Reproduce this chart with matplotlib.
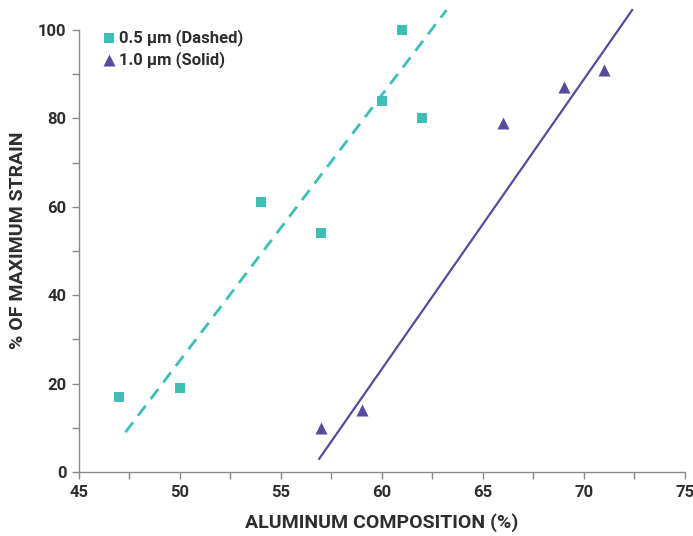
import numpy as np
import matplotlib
matplotlib.use("Agg")
from matplotlib import pyplot as plt

# Strain data, 0.5 um films (squares)
al_05 = [47, 50, 54, 57, 60, 61, 62]
strain_05 = [17, 19, 61, 54, 84, 100, 80]
# Strain data, 1.0 um films (triangles)
al_10 = [57, 59, 66, 69, 71]
strain_10 = [10, 14, 79, 87, 91]

# Trend line end points
fit_05_x = [47.3, 63.2]
fit_05_y = [9.0, 104.5]
fit_10_x = [56.9, 72.4]
fit_10_y = [3.0, 104.5]

TEAL = "#3dbfb5"
PURPLE = "#5a4a9c"
TEXT = "#2e2e2e"
AXIS = "#8a8a8a"

plt.rcParams["font.family"] = ["Roboto", "DejaVu Sans"]

fig = plt.figure(figsize=(6.93, 5.36), dpi=100)
ax = fig.add_axes([0.114, 0.1194, 0.874, 0.866])

ax.plot(fit_05_x, fit_05_y, color=TEAL, lw=2, ls=(0, (4.5, 3)))
ax.plot(fit_10_x, fit_10_y, color=PURPLE, lw=1.6)
ax.scatter(al_05, strain_05, marker="s", s=42, color=TEAL, lw=0,
           label="0.5 µm (Dashed)", zorder=3)
ax.scatter(al_10, strain_10, marker="^", s=75, color=PURPLE, lw=0,
           label="1.0 µm (Solid)", zorder=3)

ax.set_xlim(45, 75)
ax.set_ylim(0, 105)
ax.set_xticks(np.arange(45, 76, 5))
ax.set_xticks(np.arange(47.5, 75, 5), minor=True)
ax.set_yticks(np.arange(0, 101, 20))
ax.set_yticks(np.arange(10, 100, 20), minor=True)

for side in ("top", "right"):
    ax.spines[side].set_visible(False)
ax.spines["left"].set_bounds(0, 100)
for side in ("left", "bottom"):
    ax.spines[side].set_color(AXIS)
    ax.spines[side].set_linewidth(1)
ax.tick_params(which="both", color=AXIS, width=1, direction="out")
ax.tick_params(which="major", length=5, labelsize=12, labelcolor=TEXT, pad=4)
ax.tick_params(which="minor", length=5)
for lbl in ax.get_xticklabels() + ax.get_yticklabels():
    lbl.set_fontweight("bold")

ax.set_xlabel("ALUMINUM COMPOSITION (%)", fontsize=14, color=TEXT,
              fontweight="bold", labelpad=10)
ax.set_ylabel("% OF MAXIMUM STRAIN", fontsize=14, color=TEXT,
              fontweight="bold", labelpad=8)

leg = ax.legend(loc="upper left", bbox_to_anchor=(0.025, 0.968), frameon=False,
                fontsize=12, handletextpad=0.1, labelspacing=0.3,
                borderaxespad=0, handlelength=1.0)
for t in leg.get_texts():
    t.set_color(TEXT)
    t.set_fontweight("bold")

fig.savefig("out.png", dpi=100)
